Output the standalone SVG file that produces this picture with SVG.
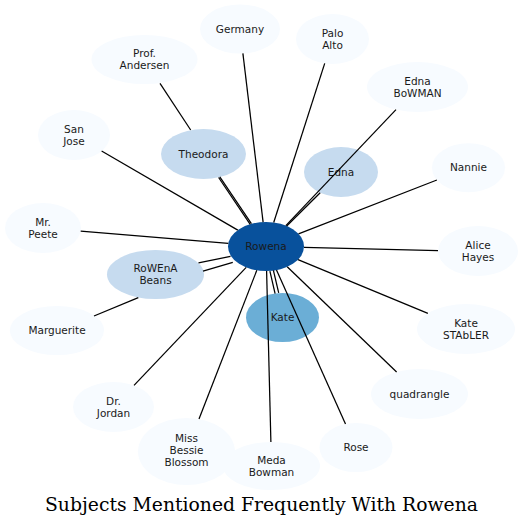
<svg xmlns="http://www.w3.org/2000/svg" width="523" height="527" viewBox="0 0 523 527">
<style>
.n0{fill:#f7fbff}
.n1{fill:#c6dbef}
.n2{fill:#6baed6}
.n3{fill:#08519c}
.lbl{font-family:"DejaVu Sans","Liberation Sans",sans-serif;font-size:10.5px;fill:#1a1a1a;text-anchor:middle}
.title{font-family:"DejaVu Serif",serif;font-size:19px;fill:#000;text-anchor:start}
#edges line{stroke:#000;stroke-width:1.25;fill:none}
</style>
<rect width="523" height="527" fill="#fff"/>
<g id="nodes" class="lbl">
<g id="n-rowena"><ellipse class="n3" cx="266" cy="246.5" rx="38" ry="24.5"/><text x="266" y="250.2">Rowena</text></g>
<g id="n-theodora"><ellipse class="n1" cx="203.5" cy="154" rx="42.5" ry="25"/><text x="203.5" y="157.7">Theodora</text></g>
<g id="n-edna"><ellipse class="n1" cx="341" cy="172" rx="37" ry="25"/><text x="341" y="175.7">Edna</text></g>
<g id="n-rowena-beans"><ellipse class="n1" cx="155.5" cy="274.5" rx="48.5" ry="24.5"/><text x="155.5" y="272">RoWEnA</text><text x="155.5" y="284">Beans</text></g>
<g id="n-kate"><ellipse class="n2" cx="282.5" cy="317.5" rx="36.5" ry="24.5"/><text x="282.5" y="321.2">Kate</text></g>
<g id="n-germany"><ellipse class="n0" cx="240" cy="29" rx="40" ry="24.5"/><text x="240" y="32.7">Germany</text></g>
<g id="n-palo-alto"><ellipse class="n0" cx="332.5" cy="39" rx="36.5" ry="25"/><text x="332.5" y="36.5">Palo</text><text x="332.5" y="48.5">Alto</text></g>
<g id="n-prof-andersen"><ellipse class="n0" cx="144.5" cy="59.5" rx="53" ry="24.5"/><text x="144.5" y="57">Prof.</text><text x="144.5" y="69">Andersen</text></g>
<g id="n-edna-bowman"><ellipse class="n0" cx="417.5" cy="87" rx="50.5" ry="25"/><text x="417.5" y="84.5">Edna</text><text x="417.5" y="96.5">BoWMAN</text></g>
<g id="n-san-jose"><ellipse class="n0" cx="74" cy="135" rx="36" ry="25"/><text x="74" y="132.5">San</text><text x="74" y="144.5">Jose</text></g>
<g id="n-nannie"><ellipse class="n0" cx="468.5" cy="167.7" rx="36.5" ry="24.5"/><text x="468.5" y="171.4">Nannie</text></g>
<g id="n-mr-peete"><ellipse class="n0" cx="43" cy="228" rx="38" ry="25"/><text x="43" y="225.5">Mr.</text><text x="43" y="237.5">Peete</text></g>
<g id="n-alice-hayes"><ellipse class="n0" cx="478" cy="251" rx="40" ry="25"/><text x="478" y="248.5">Alice</text><text x="478" y="260.5">Hayes</text></g>
<g id="n-marguerite"><ellipse class="n0" cx="57" cy="330.5" rx="47" ry="24.5"/><text x="57" y="334.2">Marguerite</text></g>
<g id="n-kate-stabler"><ellipse class="n0" cx="466" cy="329" rx="49" ry="25"/><text x="466" y="326.5">Kate</text><text x="466" y="338.5">STAbLER</text></g>
<g id="n-quadrangle"><ellipse class="n0" cx="419.5" cy="394" rx="48.5" ry="25"/><text x="419.5" y="397.7">quadrangle</text></g>
<g id="n-dr-jordan"><ellipse class="n0" cx="113.5" cy="407" rx="40.5" ry="25"/><text x="113.5" y="404.5">Dr.</text><text x="113.5" y="416.5">Jordan</text></g>
<g id="n-miss-bessie-blossom"><ellipse class="n0" cx="186.5" cy="451.5" rx="48.5" ry="33.5"/><text x="186.5" y="442">Miss</text><text x="186.5" y="454">Bessie</text><text x="186.5" y="466">Blossom</text></g>
<g id="n-meda-bowman"><ellipse class="n0" cx="271.5" cy="466" rx="48.5" ry="24"/><text x="271.5" y="463.5">Meda</text><text x="271.5" y="475.5">Bowman</text></g>
<g id="n-rose"><ellipse class="n0" cx="356" cy="447.5" rx="36.5" ry="24.5"/><text x="356" y="451.2">Rose</text></g>
</g>
<g id="edges">
<line x1="263.1" y1="222.1" x2="242.9" y2="53.4"/>
<line x1="273.7" y1="222.5" x2="324.7" y2="63.4"/>
<line x1="285.8" y1="225.6" x2="396" y2="109.6"/>
<line x1="286.7" y1="226" x2="320.2" y2="192.7"/>
<line x1="298.5" y1="233.8" x2="436.9" y2="180"/>
<line x1="304" y1="247.3" x2="438" y2="250.6"/>
<line x1="298" y1="259.7" x2="427.9" y2="313.3"/>
<line x1="287.2" y1="266.8" x2="396.6" y2="372"/>
<line x1="276.5" y1="270" x2="345.5" y2="424"/>
<line x1="266.6" y1="271" x2="270.9" y2="442"/>
<line x1="269.9" y1="271.1" x2="275.1" y2="293.7"/>
<line x1="273.4" y1="270.3" x2="278.7" y2="292.9"/>
<line x1="256.8" y1="270.3" x2="199" y2="419.1"/>
<line x1="246.2" y1="267.4" x2="134" y2="385.4"/>
<line x1="94" y1="316" x2="138.3" y2="297.7"/>
<line x1="160" y1="83.3" x2="190.7" y2="130"/>
<line x1="250.2" y1="224.3" x2="218.6" y2="177.5"/>
<line x1="251.4" y1="223.7" x2="219.8" y2="176.9"/>
<line x1="237.8" y1="230.1" x2="101.6" y2="151"/>
<line x1="228.3" y1="243.4" x2="80.7" y2="231.1"/>
<line x1="230.5" y1="256.3" x2="198.5" y2="262.8"/>
<line x1="232.8" y1="262.3" x2="203" y2="271.2"/>
</g>
<text class="title" x="45" y="511" textLength="433" lengthAdjust="spacingAndGlyphs">Subjects Mentioned Frequently With Rowena</text>
</svg>
